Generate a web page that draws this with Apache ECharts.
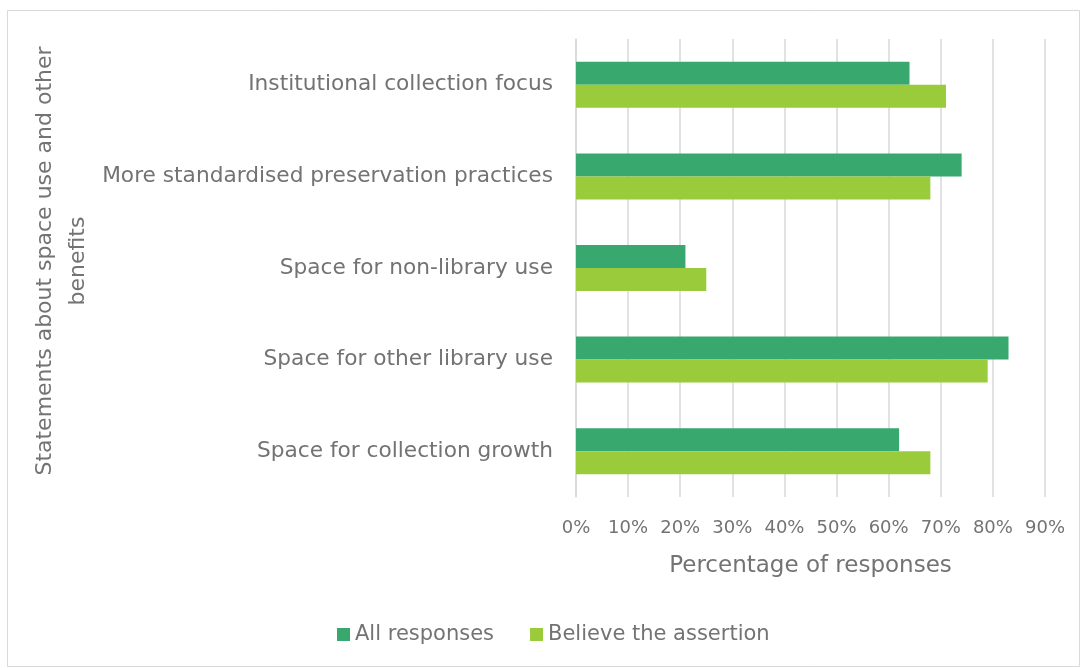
<!DOCTYPE html>
<html>
<head>
<meta charset="utf-8">
<script src="https://cdn.jsdelivr.net/npm/echarts@6/dist/echarts.min.js"></script>
<style>
html,body{margin:0;padding:0;background:#fff;}
#chart{width:1081px;height:668px;}
</style>
</head>
<body>
<div id="chart"></div>
<script>
const categories = [
  "Institutional collection focus",
  "More standardised preservation practices",
  "Space for non-library use",
  "Space for other library use",
  "Space for collection growth"
];
const allResponses = [64, 74, 21, 83, 62];
const believeAssertion = [71, 68, 25, 79, 68];
const seriesNames = ["All responses", "Believe the assertion"];
const xTicks = {min: 0, max: 90, interval: 10};

const FONT = "'DejaVu Sans', 'Liberation Sans', sans-serif";
const TXT = "#737373";

const chart = echarts.init(document.getElementById('chart'), null, {renderer: 'canvas'});
chart.setOption({
  backgroundColor: '#fff',
  animation: false,
  textStyle: {fontFamily: FONT},
  graphic: [{
    type: 'rect',
    shape: {x: 7.5, y: 10.5, width: 1072, height: 656},
    style: {fill: 'none', stroke: '#d9d9d9', lineWidth: 1},
    silent: true
  }],
  grid: {left: 576, right: 36, top: 39, bottom: 171, containLabel: false, outerBoundsMode: 'none'},
  legend: {
    data: seriesNames,
    bottom: 18,
    left: 332,
    itemWidth: 13,
    itemHeight: 13,
    itemGap: 36,
    icon: 'rect',
    textStyle: {fontFamily: FONT, fontSize: 21, color: TXT}
  },
  xAxis: {
    type: 'value',
    min: xTicks.min,
    max: xTicks.max,
    interval: xTicks.interval,
    name: 'Percentage of responses',
    nameLocation: 'middle',
    nameGap: 58,
    nameTextStyle: {fontFamily: FONT, fontSize: 23, color: TXT},
    axisLabel: {formatter: '{value}%', fontFamily: FONT, fontSize: 18, color: TXT, margin: 22},
    axisLine: {show: false},
    axisTick: {show: false},
    splitLine: {show: true, lineStyle: {color: '#d9d9d9', width: 1.5}}
  },
  yAxis: {
    type: 'category',
    data: categories,
    inverse: true,
    name: 'Statements about space use and other\nbenefits',
    nameLocation: 'middle',
    nameGap: 481,
    nameTextStyle: {fontFamily: FONT, fontSize: 22, color: TXT, lineHeight: 33, padding: [0, 0, 0, 14]},
    axisLabel: {fontFamily: FONT, fontSize: 21.7, color: TXT, margin: 23},
    axisLine: {show: true, lineStyle: {color: '#d9d9d9', width: 1.5}},
    axisTick: {show: false},
    splitLine: {show: false}
  },
  series: [
    {
      name: seriesNames[0],
      type: 'bar',
      data: allResponses,
      barWidth: 23,
      barGap: '0%',
      itemStyle: {color: '#38a86f'}
    },
    {
      name: seriesNames[1],
      type: 'bar',
      data: believeAssertion,
      barWidth: 23,
      barGap: '0%',
      itemStyle: {color: '#9acb3a'}
    }
  ]
});
</script>
</body>
</html>
